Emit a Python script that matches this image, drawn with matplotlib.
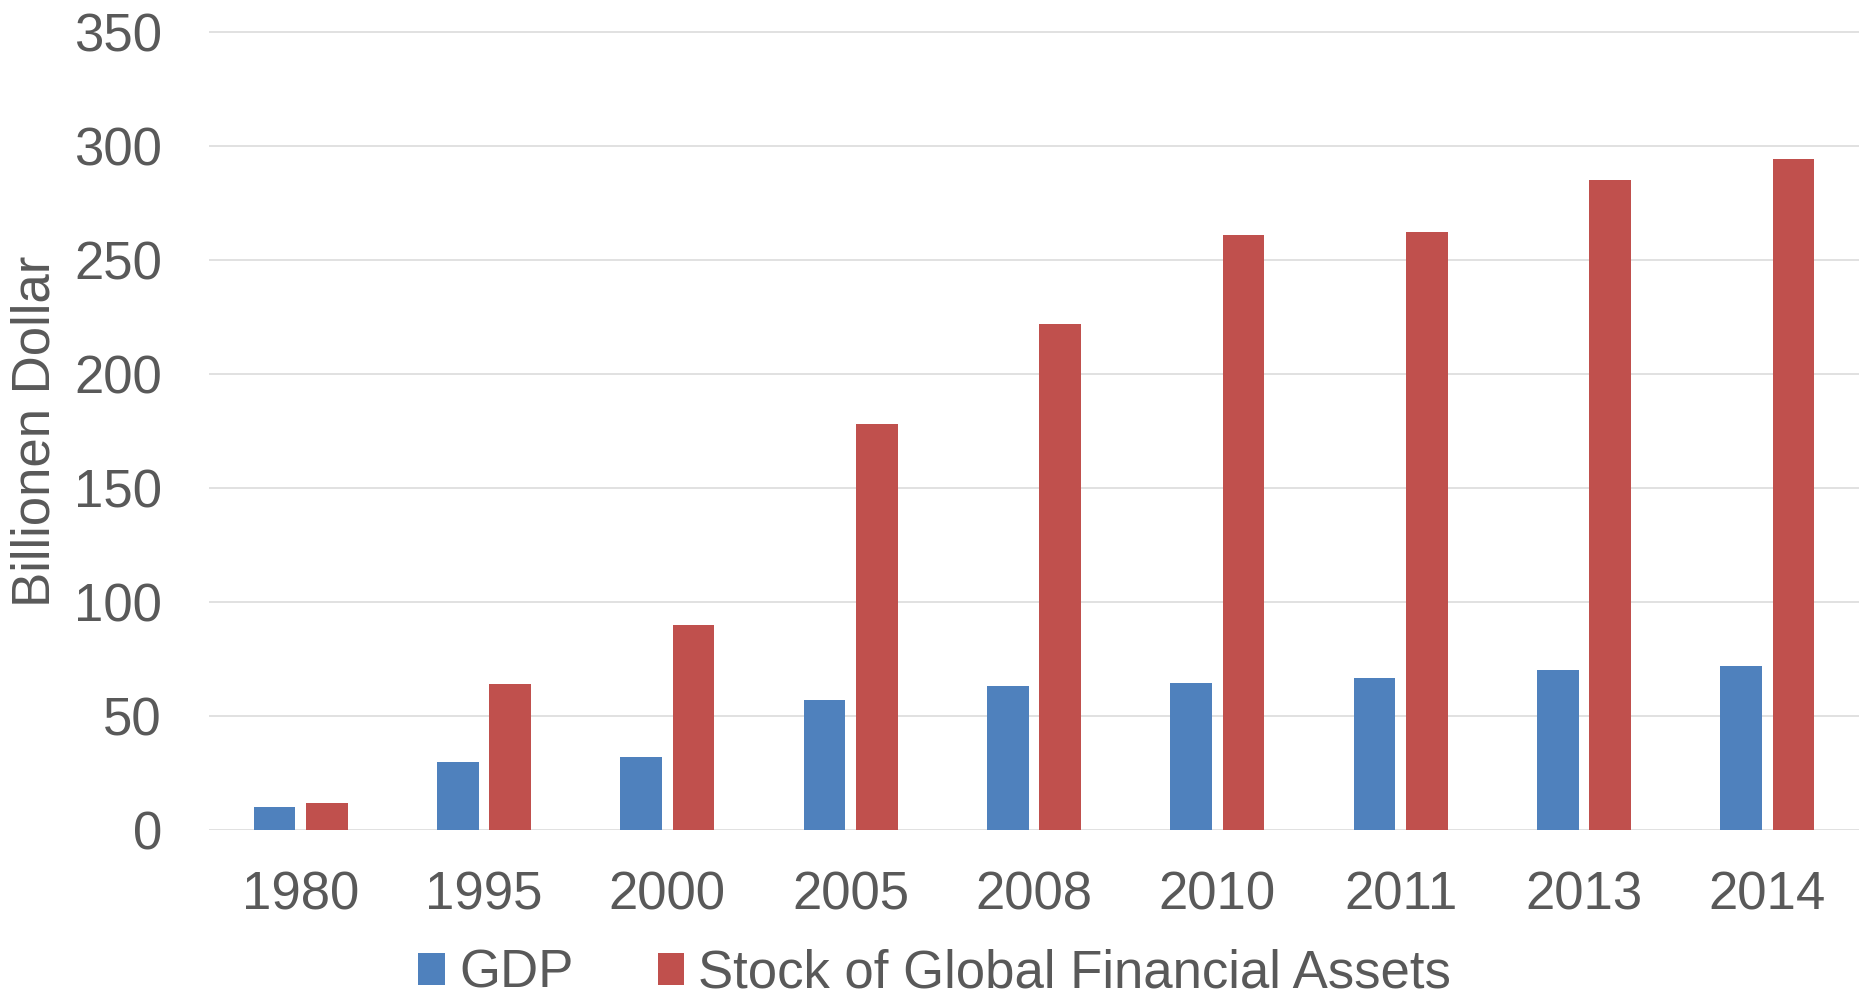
import matplotlib
matplotlib.use("Agg")
import matplotlib.pyplot as plt
import numpy as np

years = ["1980", "1995", "2000", "2005", "2008", "2010", "2011", "2013", "2014"]
gdp = [10, 30, 32, 57, 63, 64.5, 66.5, 70, 72]
assets = [12, 64, 90, 178, 222, 261, 262, 285, 294]
series_names = ["GDP", "Stock of Global Financial Assets"]
y_ticks = [0, 50, 100, 150, 200, 250, 300, 350]
y_label = "Billionen Dollar"

plt.rcParams['font.family'] = ['Liberation Sans', 'DejaVu Sans']
text_color = "#595959"
blue = "#4F81BD"
red = "#C0504D"

fig = plt.figure(figsize=(18.66, 9.97), dpi=100)
ax = fig.add_axes([209/1866, 1-830/997, (1859-209)/1866, (830-31.5)/997])

x = np.arange(len(years))
w = 0.227
off = 0.143
b1 = ax.bar(x - off, gdp, width=w, color=blue, label=series_names[0], zorder=3)
b2 = ax.bar(x + off, assets, width=w, color=red, label=series_names[1], zorder=3)

ax.set_xlim(-0.5, len(years) - 0.5)
ax.set_ylim(0, 350)
ax.set_yticks(y_ticks)
ax.set_xticks(x)
ax.set_xticklabels(years)
ax.tick_params(axis='both', length=0, labelsize=38, colors=text_color)
ax.tick_params(axis='y', pad=34)
ax.tick_params(axis='x', pad=29.5)
ax.grid(axis='y', color="#D9D9D9", linewidth=1.1, zorder=0)
for s in ax.spines.values():
    s.set_visible(False)

fig.text(36/1866, 1-431/997, y_label, rotation=90, ha='center', va='center',
         fontsize=38, color=text_color)

leg = fig.legend(handles=[b1, b2], labels=series_names, loc='center',
                 bbox_to_anchor=(0.501, 0.0235), ncol=2, frameon=False,
                 fontsize=38, handlelength=0.5, handleheight=0.55,
                 handletextpad=0.27, columnspacing=1.6, borderpad=0, borderaxespad=0)
for t in leg.get_texts():
    t.set_color(text_color)

fig.savefig("out.png", dpi=100)
